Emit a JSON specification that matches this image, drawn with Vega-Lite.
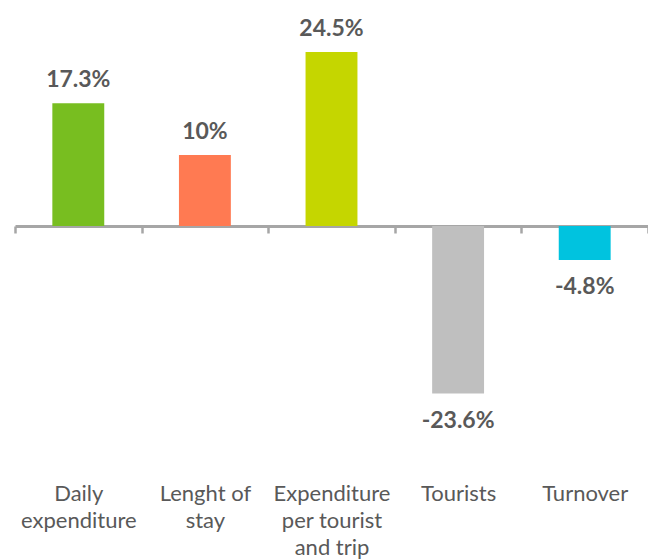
{
  "$schema": "https://vega.github.io/schema/vega-lite/v6.json",
  "width": 633,
  "height": 470,
  "autosize": "none",
  "padding": {"left": 15, "top": 0, "right": 0, "bottom": 90},
  "config": {"view": {"stroke": null}, "font": "Lato"},
  "data": {
    "values": [
      {"category": "Daily|expenditure", "value": 17.3, "label": "17.3%", "color": "#78BE20"},
      {"category": "Lenght of|stay", "value": 10, "label": "10%", "color": "#FF7A52"},
      {"category": "Expenditure|per tourist|and trip", "value": 24.5, "label": "24.5%", "color": "#C5D600"},
      {"category": "Tourists", "value": -23.6, "label": "-23.6%", "color": "#BFBFBF"},
      {"category": "Turnover", "value": -4.8, "label": "-4.8%", "color": "#00C3DF"}
    ]
  },
  "encoding": {
    "x": {
      "field": "category",
      "type": "nominal",
      "sort": null,
      "scale": {"padding": 0},
      "axis": {
        "title": null,
        "orient": "bottom",
        "offset": -244,
        "domainColor": "#A6A6A6",
        "domainWidth": 3,
        "tickColor": "#A6A6A6",
        "tickWidth": 2.5,
        "tickSize": 7,
        "tickBand": "extent",
        "labelAngle": 0,
        "labelPadding": 250,
        "labelFont": "Lato",
        "labelFontSize": 22,
        "labelColor": "#595959",
        "labelLineHeight": 27,
        "labelExpr": "split(datum.label, '|')"
      }
    },
    "y": {
      "field": "value",
      "type": "quantitative",
      "scale": {"domain": [-34.37, 31.83], "nice": false, "zero": true},
      "axis": null
    }
  },
  "layer": [
    {
      "mark": {"type": "bar", "width": {"band": 0.41}},
      "encoding": {
        "color": {"field": "color", "type": "nominal", "scale": null, "legend": null}
      }
    },
    {
      "transform": [{"filter": "datum.value >= 0"}],
      "mark": {"type": "text", "baseline": "alphabetic", "dy": -16, "font": "Lato", "fontWeight": "bold", "fontSize": 23, "color": "#595959"},
      "encoding": {"text": {"field": "label", "type": "nominal"}}
    },
    {
      "transform": [{"filter": "datum.value < 0"}],
      "mark": {"type": "text", "baseline": "alphabetic", "dy": 34, "font": "Lato", "fontWeight": "bold", "fontSize": 23, "color": "#595959"},
      "encoding": {"text": {"field": "label", "type": "nominal"}}
    }
  ]
}
